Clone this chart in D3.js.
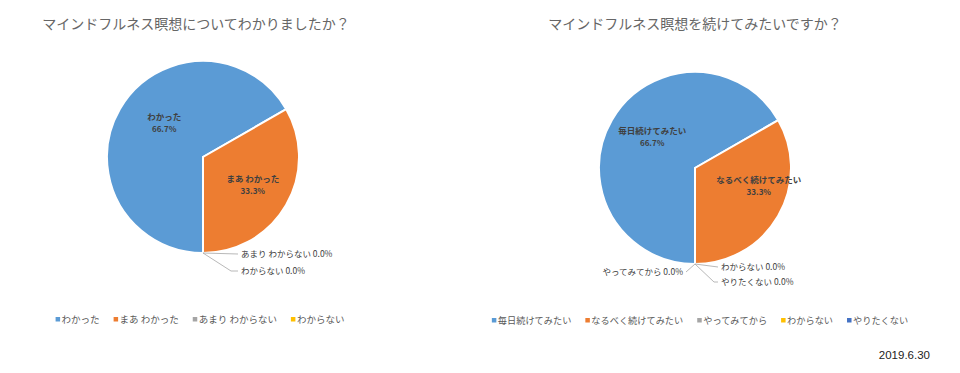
<!DOCTYPE html>
<html>
<head>
<meta charset="utf-8">
<script src="https://cdn.jsdelivr.net/npm/d3@7"></script>
<style>
  body { margin: 0; background: #fff; }
  svg { display: block; font-family: "Noto Sans CJK JP", "Noto Sans", sans-serif; }
</style>
</head>
<body>
<svg id="canvas" width="960" height="373"></svg>
<script>
// chart 1
const title1 = 'マインドフルネス瞑想についてわかりましたか？'
const labels1 = ['わかった', 'まあ わかった', 'あまり わからない', 'わからない']
const legend1 = ['わかった', 'まあ わかった', 'あまり わからない', 'わからない']
const values1 = [66.7, 33.3, 0.0, 0.0]

// chart 2
const title2 = 'マインドフルネス瞑想を続けてみたいですか？'
const labels2 = ['毎日続けてみたい', 'なるべく続けてみたい', 'やってみてから', 'わからない', 'やりたくない']
const legend2 = ['毎日続けてみたい', 'なるべく続けてみたい', 'やってみてから', 'わからない', 'やりたくない']
const values2 = [66.7, 33.3, 0.0, 0.0, 0.0]

const dateText = '2019.6.30'

const colors = ['#5b9bd5', '#ed7d31', '#a5a5a5', '#ffc000', '#4472c4']

let canvas = d3.select('#canvas')

// zero-slice label placement relative to the bottom point of the pie: [dx, dy, bendX]
const zeroPlace1 = [[38, 1, 0], [38, 18, 28]]
const zeroPlace2 = [[-12, 8, 0], [26, 3, 0], [26, 18, 19]]
// small nudges for the big slice labels
const bigNudge1 = [[11, -8], [0, -4]]
const bigNudge2 = [[7, -5], [14, -14]]

const drawPie = (opt) => {
    let g = canvas.append('g').attr('transform', `translate(${opt.cx},${opt.cy})`)
    let r = opt.r

    canvas.append('text')
          .attr('x', opt.titleX)
          .attr('y', 29)
          .attr('text-anchor', 'middle')
          .attr('font-size', 14)
          .attr('fill', '#666')
          .text(opt.title)

    let pie = d3.pie().sort(null).startAngle(Math.PI).endAngle(3 * Math.PI)
    let arcs = pie(opt.values)
    let arc = d3.arc().innerRadius(0).outerRadius(r)
    let labelArc = d3.arc().innerRadius(r * 0.6).outerRadius(r * 0.6)

    g.selectAll('path')
     .data(arcs)
     .enter()
     .append('path')
     .attr('d', arc)
     .attr('fill', (d, i) => colors[i])
     .attr('stroke', '#fff')
     .attr('stroke-width', 2)

    // labels of visible slices
    arcs.forEach((d, i) => {
        if (d.data > 0) {
            let c = labelArc.centroid(d)
            let nx = opt.bigNudge[i][0], ny = opt.bigNudge[i][1]
            let t = g.append('text')
                     .attr('text-anchor', 'middle')
                     .attr('font-size', 8.5)
                     .attr('font-weight', 'bold')
                     .attr('fill', '#404040')
            t.append('tspan').attr('x', c[0] + nx).attr('y', c[1] + ny).text(opt.labels[i])
            t.append('tspan').attr('x', c[0] + nx).attr('y', c[1] + ny + 12).attr('font-size', 8).text(d3.format('.1f')(d.data) + '%')
        }
    })

    // zero slices with leader lines
    let k = 0
    arcs.forEach((d, i) => {
        if (d.data === 0) {
            let a = d.startAngle
            let px = r * Math.sin(a), py = -r * Math.cos(a)
            let p = opt.zeroPlace[k++]
            let tx = px + p[0], ty = py + p[1]
            let left = p[0] < 0
            let pts = p[2] ? [[px, py], [px + p[2], ty], [tx - 3, ty]] : [[px, py], [left ? tx + 3 : tx - 3, ty]]
            g.append('path')
             .attr('d', d3.line()(pts))
             .attr('fill', 'none')
             .attr('stroke', '#a6a6a6')
             .attr('stroke-width', 0.8)
            g.append('text')
             .attr('x', tx)
             .attr('y', ty + 3)
             .attr('text-anchor', left ? 'end' : 'start')
             .attr('font-size', 8.5)
             .attr('fill', '#404040')
             .text(opt.labels[i] + ' ' + d3.format('.1f')(d.data) + '%')
        }
    })

    // legend
    let lg = canvas.append('g').attr('transform', `translate(0,${opt.legendY})`)
    let items = []
    opt.legend.forEach((name, i) => {
        let it = lg.append('g')
        it.append('rect').attr('x', 0).attr('y', -6).attr('width', 4.5).attr('height', 4.5).attr('fill', colors[i])
        let t = it.append('text').attr('x', 6).attr('y', 0).attr('font-size', opt.legendFont).attr('fill', '#595959').text(name)
        let w = 6 + t.node().getComputedTextLength()
        items.push({ it, w })
    })
    let gap = 14
    let total = d3.sum(items, d => d.w) + gap * (items.length - 1)
    let x = opt.legendCx - total / 2
    items.forEach(d => {
        d.it.attr('transform', `translate(${x},0)`)
        x += d.w + gap
    })
}

drawPie({
    cx: 203, cy: 157, r: 96, title: title1, titleX: 196,
    values: values1, labels: labels1, legend: legend1,
    zeroPlace: zeroPlace1, bigNudge: bigNudge1,
    legendY: 323, legendCx: 200, legendFont: 9.5
})

drawPie({
    cx: 695, cy: 168, r: 96, title: title2, titleX: 695,
    values: values2, labels: labels2, legend: legend2,
    zeroPlace: zeroPlace2, bigNudge: bigNudge2,
    legendY: 324, legendCx: 700, legendFont: 9.2
})

canvas.append('text')
      .attr('x', 930)
      .attr('y', 359)
      .attr('text-anchor', 'end')
      .attr('font-size', 11.5)
      .attr('fill', '#222')
      .attr('font-family', 'Arial, "Liberation Sans", sans-serif')
      .text(dateText)
</script>
</body>
</html>
